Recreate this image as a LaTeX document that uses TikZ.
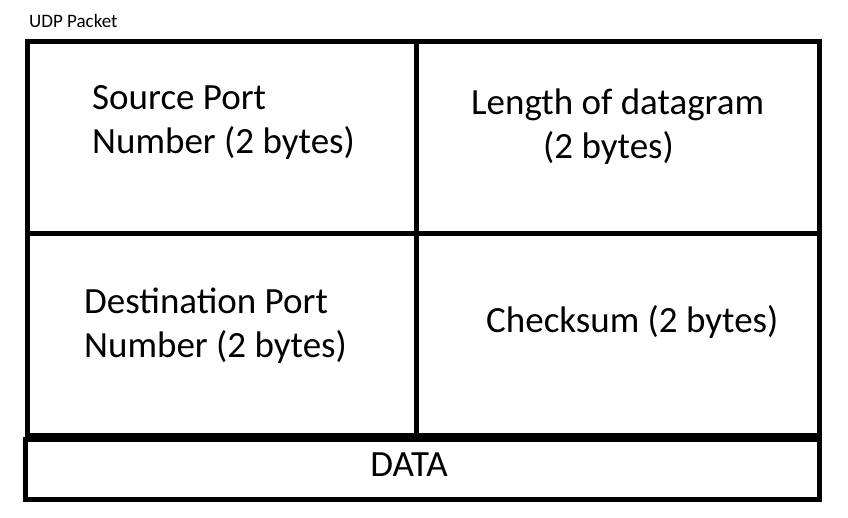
\documentclass[tikz,border=0pt]{standalone}
\usepackage{fontspec}
\setmainfont{Carlito}
\usepackage{tikz}

\tikzset{
	field/.style={font=\fontsize{37}{44}\selectfont, inner sep=0pt, anchor=base west, align=left},
	frame/.style={line width=5pt}
}

\begin{document}
\begin{tikzpicture}[x=1pt,y=-1pt]
	\useasboundingbox (0,0) rectangle (848,517);
	\coordinate (TL) at (27.5,41.5);
	\coordinate (BR) at (819.5,435);
	\coordinate (ML) at (27.5,233.5);
	\coordinate (MR) at (819.5,233.5);
	\coordinate (MT) at (416.5,41.5);
	\coordinate (MB) at (416.5,435);
	\coordinate (DL) at (25.5,439);
	\coordinate (DR) at (819.5,499.5);
	\draw[frame] (TL) rectangle (BR);
	\draw[frame] (ML) -- (MR);
	\draw[frame] (MT) -- (MB);
	\draw[frame] (DL) rectangle (DR);
	\node[anchor=base west, inner sep=0pt, font=\fontsize{19}{23}\selectfont] (udp) at (29,27) {UDP Packet};
	\node[field] (srcport) at (92,153) {Source Port\\Number (2 bytes)};
	\node[field] (length) at (471,114) {Length of datagram};
	\node[field] (lengthbytes) at (543,158) {(2 bytes)};
	\node[field] (dstport) at (84,357) {Destination Port\\Number (2 bytes)};
	\node[field] (checksum) at (486,332) {Checksum (2 bytes)};
	\node[field, anchor=base] (data) at (409,476) {DATA};
\end{tikzpicture}
\end{document}
